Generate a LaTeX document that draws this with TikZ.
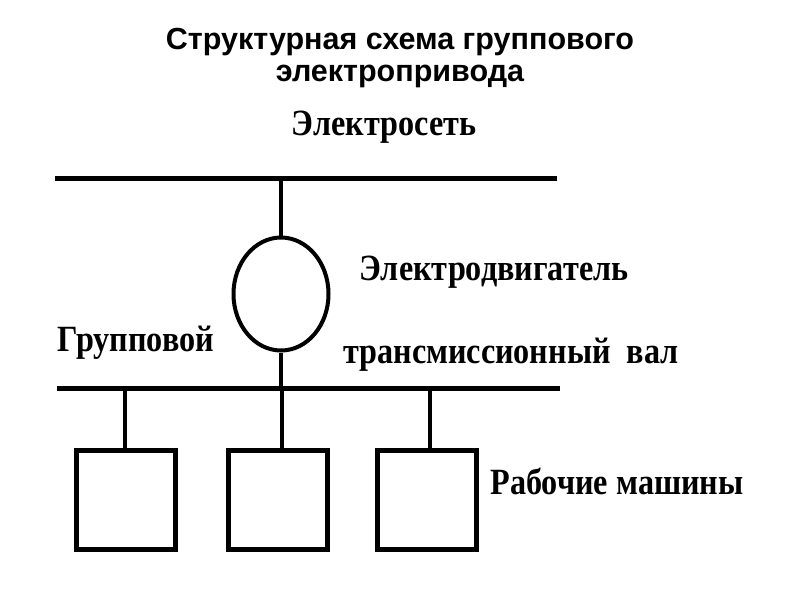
\documentclass[tikz,border=0pt]{standalone}
\usepackage{fontspec}
\setmainfont{Liberation Serif}
\newfontfamily\titlefont{Liberation Sans}
\newfontfamily\scanfont[FakeStretch=0.87]{Liberation Serif}
\usetikzlibrary{shapes.geometric}
\tikzset{
  titletext/.style={font=\titlefont\bfseries\fontsize{30.5}{33}\selectfont, inner sep=0pt},
  lbl/.style={font=\scanfont\bfseries\fontsize{37}{40}\selectfont, inner sep=0pt},
  bus/.style={line width=5pt},
  wire/.style={line width=3.2pt},
  motorshape/.style={draw, ellipse, line width=4pt, minimum width=95pt, minimum height=113pt, inner sep=0pt},
  machine/.style={draw, rectangle, line width=5pt, minimum width=99pt, minimum height=99pt, inner sep=0pt},
}
\begin{document}
\begin{tikzpicture}[x=1pt,y=-1pt]
\useasboundingbox[fill=white] (0,0) rectangle (800,600);
\node[titletext] (t1) at (400,42) {Структурная схема группового};
\node[titletext] (t2) at (400,76) {электропривода};
\node[lbl] (net) at (384,127) {Электросеть};
\node[lbl] (eng) at (494,272) {Электродвигатель};
\node[lbl] (grp) at (136,343) {Групповой};
\node[lbl] (shaft) at (511,355) {трансмиссионный\ \ вал};
\node[lbl] (work) at (617,481) {Рабочие машины};
\coordinate (topL) at (55,178);
\coordinate (topR) at (557,178);
\coordinate (botL) at (57,388);
\coordinate (botR) at (560,388);
\draw[bus] (topL) -- (topR);
\draw[bus] (botL) -- (botR);
\node[motorshape] (motor) at (281,294) {};
\draw[wire] (motor.north) -- (motor.north |- topL);
\draw[wire] (motor.south) -- (motor.south |- botL);
\node[machine] (m1) at (126,500) {};
\node[machine] (m2) at (278,500) {};
\node[machine] (m3) at (427,500) {};
\coordinate (j1) at (125,388);
\coordinate (j2) at (282,388);
\coordinate (j3) at (430,388);
\draw[wire] (j1) -- (j1 |- m1.north);
\draw[wire] (j2) -- (j2 |- m2.north);
\draw[wire] (j3) -- (j3 |- m3.north);
\end{tikzpicture}
\end{document}
